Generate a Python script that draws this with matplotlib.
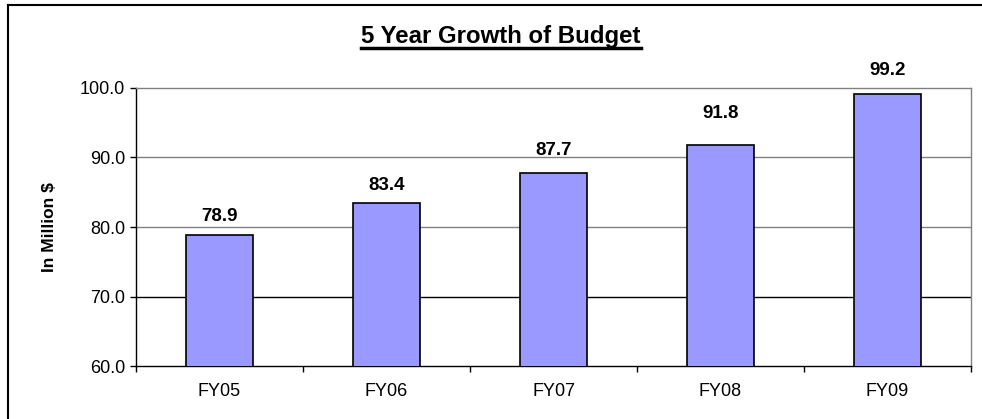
import matplotlib
matplotlib.use("Agg")
import matplotlib.pyplot as plt
from matplotlib.lines import Line2D

plt.rcParams['font.family'] = ['Liberation Sans', 'DejaVu Sans']

categories = ["FY05", "FY06", "FY07", "FY08", "FY09"]
values = [78.9, 83.4, 87.7, 91.8, 99.2]
yticks = [60, 70, 80, 90, 100]
ytick_labels = ["60.0", "70.0", "80.0", "90.0", "100.0"]
label_offsets_px = [18, 18, 23, 31, 23]

W, H = 982, 419
fig = plt.figure(figsize=(W / 100, H / 100), dpi=100)
ax = fig.add_axes([136 / W, 1 - 366 / H, (971 - 136) / W, (366 - 88) / H])

x = list(range(len(categories)))
ax.bar(x, values, width=0.4, bottom=0, color="#9999FF", edgecolor="black",
       linewidth=1.2, zorder=3)
ax.set_xlim(-0.5, len(categories) - 0.5)
ax.set_ylim(60, 100)

# gridlines
for yv in yticks[1:-1]:
    ax.axhline(yv, color="black" if yv == 70 else "#808080", linewidth=1.0, zorder=1)

ax.set_yticks(yticks)
ax.set_yticklabels(ytick_labels, fontsize=13)
ax.set_xticks(x)
ax.set_xticklabels(categories, fontsize=13)
ax.tick_params(axis="x", length=0, pad=12)
ax.tick_params(axis="y", length=4, width=1, pad=4, direction="out")
# boundary ticks on x axis
ax.set_xticks([i - 0.5 for i in range(len(categories) + 1)], minor=True)
ax.tick_params(axis="x", which="minor", length=4, width=1, direction="out", color="black")

for s in ["top", "right"]:
    ax.spines[s].set_color("#808080")
for s in ["left", "bottom"]:
    ax.spines[s].set_color("black")
for s in ax.spines.values():
    s.set_linewidth(1.0)

ax.set_ylabel("In Million $", fontsize=12.5, fontweight="bold", labelpad=16)

for xi, v, off in zip(x, values, label_offsets_px):
    ax.annotate(f"{v:.1f}", xy=(xi, v), xytext=(0, off), textcoords="offset pixels",
                ha="center", va="center", fontsize=13.5, fontweight="bold")

# title with underline
title = fig.text(501 / W, 1 - 36 / H, "5 Year Growth of Budget", ha="center", va="center",
                 fontsize=17.3, fontweight="bold")
fig.canvas.draw()
bb = title.get_window_extent()
y_ul = bb.y0 - 1.0
fig.add_artist(Line2D([bb.x0 / W, bb.x1 / W], [y_ul / H, y_ul / H], color="black",
                      linewidth=2.5, transform=fig.transFigure))

# outer chart border (left and top edges visible)
fig.add_artist(Line2D([8 / W, 8 / W], [0, 1 - 5 / H], color="black", linewidth=1.5,
                      transform=fig.transFigure))
fig.add_artist(Line2D([8 / W, 1], [1 - 5 / H, 1 - 5 / H], color="black", linewidth=1.5,
                      transform=fig.transFigure))

fig.savefig("out.png", dpi=100)
